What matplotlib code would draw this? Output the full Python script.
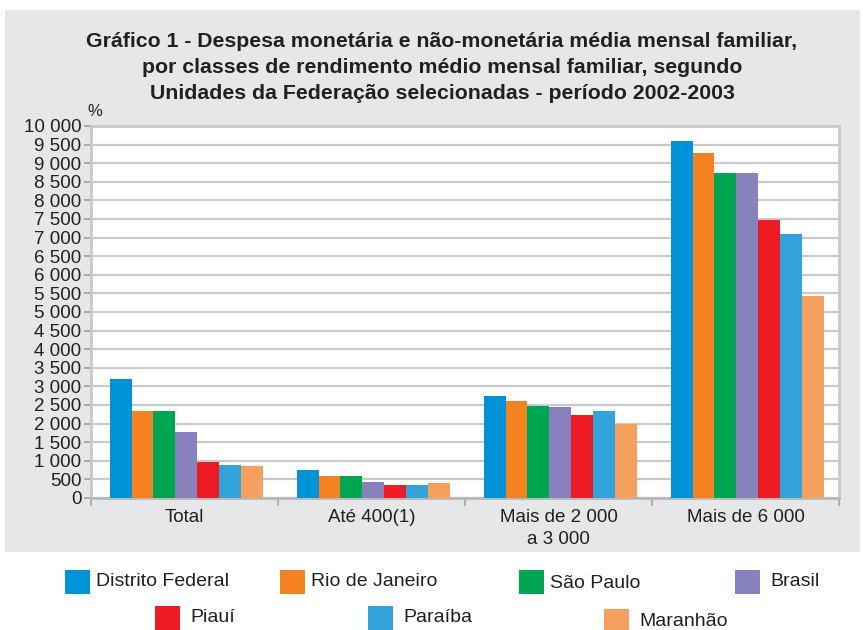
import numpy as np
import matplotlib.pyplot as plt
from matplotlib.patches import Rectangle
from matplotlib.ticker import FuncFormatter

plt.rcParams['font.family'] = ['Liberation Sans Narrow', 'DejaVu Sans Condensed',
                               'Liberation Sans', 'DejaVu Sans']

# Data
categories = ['Total', 'Até 400(1)', 'Mais de 2 000\na 3 000', 'Mais de 6 000']
series = ['Distrito Federal', 'Rio de Janeiro', 'São Paulo', 'Brasil',
          'Piauí', 'Paraíba', 'Maranhão']
distrito_federal = [3200, 740, 2730, 9590]
rio_de_janeiro = [2330, 580, 2600, 9270]
sao_paulo = [2330, 580, 2470, 8730]
brasil = [1770, 440, 2440, 8730]
piaui = [980, 360, 2220, 7470]
paraiba = [900, 360, 2330, 7100]
maranhao = [850, 390, 2000, 5430]
values = [distrito_federal, rio_de_janeiro, sao_paulo, brasil, piaui, paraiba, maranhao]
colors = ['#0093d8', '#f58220', '#00a551', '#8781bd', '#ed1c24', '#33a3dc', '#f69f5e']

txt = '#231f20'
fig = plt.figure(figsize=(8.63, 6.3), dpi=100)
fig.patch.set_facecolor('white')
# grey panel behind title and plot
fig.patches.append(Rectangle((5 / 863, 1 - 552 / 630), 855 / 863, 542 / 630,
                             transform=fig.transFigure, facecolor='#e6e7e8',
                             edgecolor='none', zorder=-5))

ax = fig.add_axes([91 / 863, 1 - 498 / 630, 748 / 863, 372 / 630])
ax.set_zorder(3)
ax.set_facecolor('white')

x = np.arange(len(categories))
w = 0.1176
for k, (vals, c) in enumerate(zip(values, colors)):
    ax.bar(x - 0.5 + 0.099 + k * w, vals, width=w, align='edge', color=c,
           label=series[k], zorder=3)

ax.set_xlim(-0.5, len(categories) - 0.5)
ax.set_ylim(0, 10000)
ax.set_yticks(np.arange(0, 10001, 500))
ax.yaxis.set_major_formatter(FuncFormatter(lambda v, p: f'{int(v):,}'.replace(',', ' ')))
ax.grid(axis='y', color='#c8c9ca', linewidth=1.6, zorder=1)
ax.set_xticks(x)
ax.set_xticklabels(categories, fontsize=13.5, color=txt, linespacing=1.35)
ax.set_xticks(np.arange(-0.5, len(categories)), minor=True)
ax.tick_params(axis='x', which='major', length=0, pad=8)
ax.tick_params(axis='x', which='minor', length=6, width=1.5, color='#b0b0b0')
ax.tick_params(axis='y', length=5, width=1.2, color='#a0a0a0', labelsize=13.5,
               labelcolor=txt, pad=2)
for s in ['top', 'right', 'left']:
    ax.spines[s].set_color('#c8c9ca')
    ax.spines[s].set_linewidth(2)
ax.spines['bottom'].set_color('#b8b8b8')
ax.spines['bottom'].set_linewidth(2)

fig.text(442 / 863, 1 - 67.5 / 630,
         'Gráfico 1 - Despesa monetária e não-monetária média mensal familiar,\n'
         'por classes de rendimento médio mensal familiar, segundo\n'
         'Unidades da Federação selecionadas - período 2002-2003',
         ha='center', va='center', fontsize=15.3, fontweight='bold', color=txt,
         linespacing=1.45)
fig.text(95 / 863, 1 - 112 / 630, '%', ha='center', va='center', fontsize=12, color=txt)

# legend, laid out as in the source: square x, square top, text x, text centre y
leg_pos = [(65, 570, 96, 582), (280, 570, 311, 582), (519, 570, 550, 583),
           (735, 570, 770, 581), (155, 606, 190, 618), (368, 606, 403, 617),
           (604, 609, 639, 622)]
for (sx, sy, tx, ty), name, c in zip(leg_pos, series, colors):
    fig.patches.append(Rectangle((sx / 863, 1 - (sy + 24) / 630), 25 / 863, 24 / 630,
                                 transform=fig.transFigure, facecolor=c,
                                 edgecolor='none'))
    fig.text(tx / 863, 1 - ty / 630, name, ha='left', va='center',
             fontsize=14, color=txt)

fig.savefig('out.png', dpi=100)
